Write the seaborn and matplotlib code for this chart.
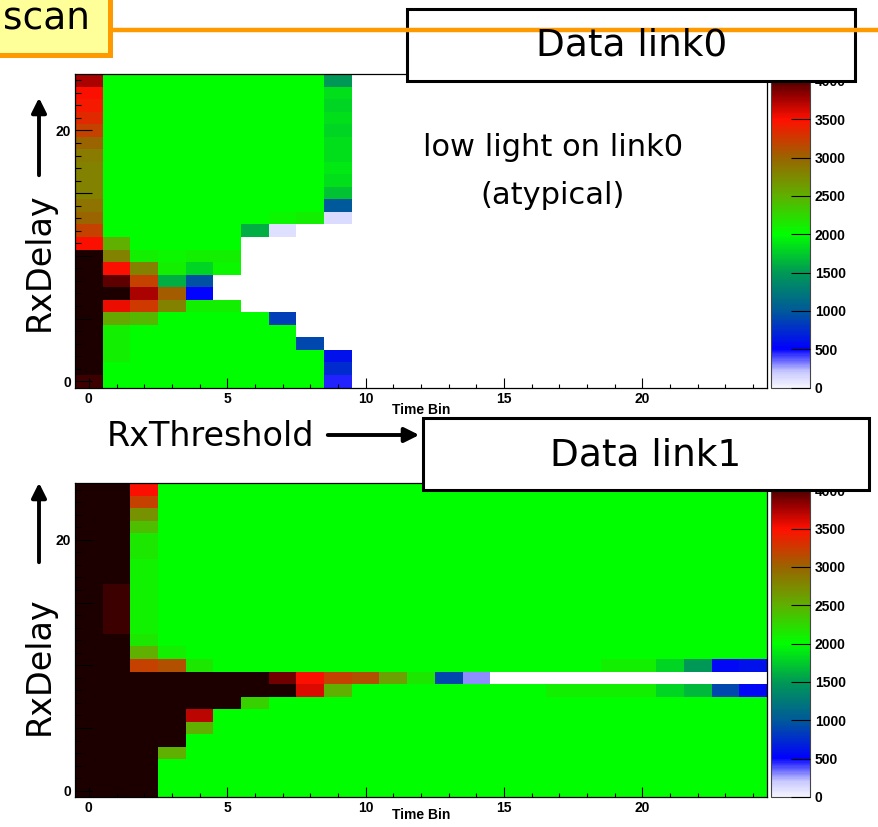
import numpy as np
import pandas as pd
import seaborn as sns
import matplotlib.pyplot as plt
from matplotlib.colors import LinearSegmentedColormap
from matplotlib.patches import Rectangle
from matplotlib.ticker import FixedLocator

N = np.nan   # empty bin
G = 2000     # plateau
K = 4500     # saturated, above palette max

time_bins = list(range(25))
rx_delay = list(range(25))

# link0: only time bins 0..9 filled, rows are RxDelay 0..24
link0_rows = [
    [4050, G, G, G, G, G, G, G, G, 450],
    [K, G, G, G, G, G, G, G, G, 750],
    [K, 2100, G, G, G, G, G, G, G, 600],
    [K, 2100, G, G, G, G, G, G, 900, N],
    [K, 2100, G, G, G, G, G, G, N, N],
    [K, 2550, 2450, G, G, G, G, 850, N, N],
    [K, 3550, 3250, 2800, 2100, 2100, N, N, N, N],
    [K, K, 3750, 3050, 500, N, N, N, N, N],
    [K, 3950, 3200, 1600, 950, N, N, N, N, N],
    [K, 3500, 2800, 2100, 1800, 2050, N, N, N, N],
    [K, 2800, 2100, 2050, 2100, 2100, N, N, N, N],
    [3500, 2500, G, G, G, G, N, N, N, N],
    [3200, G, G, G, G, G, 1600, 100, N, N],
    [3000, G, G, G, G, G, G, 2050, 2100, 120],
    [2900, G, G, G, G, G, G, G, G, 1000],
    [2800, G, G, G, G, G, G, G, G, 1700],
    [2800, G, G, G, G, G, G, G, G, 1850],
    [2800, G, G, G, G, G, G, G, G, 1900],
    [2850, G, G, G, G, G, G, G, G, 1850],
    [3000, G, G, G, G, G, G, G, G, 1850],
    [3200, G, G, G, G, G, G, G, G, 1800],
    [3350, G, G, G, G, G, G, G, G, 1850],
    [3450, G, G, G, G, G, G, G, G, 1800],
    [3500, G, G, G, G, G, G, G, G, 1850],
    [3750, G, G, G, G, G, G, G, G, 1500],
]

# link1: all 25 time bins, rows are RxDelay 0..24
link1_rows = [
    [K, K, K] + [G] * 22,
    [K, K, K] + [G] * 22,
    [K, K, K] + [G] * 22,
    [K, K, K, 2500] + [G] * 21,
    [K, K, K, K] + [G] * 21,
    [K, K, K, K, 2500] + [G] * 20,
    [K, K, K, K, 3700] + [G] * 20,
    [K, K, K, K, K, K, 2300] + [G] * 18,
    [K] * 8 + [3600, 2500] + [G] * 7 + [2100, 2100, 2100, 2100, 1800, 1650, 900, 550],
    [K] * 7 + [3900, 3500, 3200, 3100, 2600, 2150, 900, 290] + [N] * 10,
    [K, K, 3200, 3100, 2150] + [G] * 14 + [2100, 2100, 1800, 1500, 550, 600],
    [K, K, 2500, 2100] + [G] * 21,
    [K, K, 2150] + [G] * 22,
    [K, 4050, 2080] + [G] * 22,
    [K, 4050, 2080] + [G] * 22,
    [K, 4050, 2080] + [G] * 22,
    [K, 4050, 2080] + [G] * 22,
    [K, K, 2080] + [G] * 22,
    [K, K, 2080] + [G] * 22,
    [K, K, 2150] + [G] * 22,
    [K, K, 2150] + [G] * 22,
    [K, K, 2400] + [G] * 22,
    [K, K, 2700] + [G] * 22,
    [K, K, 3200] + [G] * 22,
    [K, K, 3500] + [G] * 22,
]

z_ticks = [0, 500, 1000, 1500, 2000, 2500, 3000, 3500, 4000]
x_major = [0, 5, 10, 15, 20]
y_major = [0, 5, 10, 15, 20]
y_labels = ['0', '', '', '', '20']

ZMAX = 4090
palette = [(0, '#f4f4ff'), (200, '#c8c8ff'), (500, '#0000ff'), (1000, '#005a99'),
           (1500, '#009955'), (2000, '#00ff00'), (2500, '#5fb000'), (3000, '#9a6400'),
           (3500, '#ff1000'), (3800, '#9a0000'), (4090, '#300000')]
cmap = LinearSegmentedColormap.from_list('root', [(v / ZMAX, c) for v, c in palette])
cmap.set_over('#1c0000')
cmap.set_bad('white')

plt.rcParams['font.family'] = ['Liberation Sans', 'DejaVu Sans']

W, H = 879, 827
fig = plt.figure(figsize=(W / 100, H / 100), dpi=100)


def box(l, t, r, b):
    return [l / W, 1 - b / H, (r - l) / W, (b - t) / H]


def draw(rows, ax_box, cb_box):
    ax = fig.add_axes(box(*ax_box))
    cax = fig.add_axes(box(*cb_box))
    rows = [r + [N] * (25 - len(r)) for r in rows]
    df = pd.DataFrame(rows, index=rx_delay, columns=time_bins)
    sns.heatmap(df, ax=ax, cbar_ax=cax, cmap=cmap, vmin=0, vmax=ZMAX,
                xticklabels=False, yticklabels=False, linewidths=0,
                cbar_kws={'extend': 'neither', 'ticks': z_ticks})
    ax.set_axisbelow(False)
    ax.set_xlim(0, 25)
    ax.set_ylim(0, 25)
    ax.set_xlabel('')
    ax.set_ylabel('')
    ax.xaxis.set_major_locator(FixedLocator([v + 0.5 for v in x_major]))
    ax.xaxis.set_minor_locator(FixedLocator([v + 0.5 for v in time_bins]))
    ax.yaxis.set_major_locator(FixedLocator([v + 0.5 for v in y_major]))
    ax.yaxis.set_minor_locator(FixedLocator([v + 0.5 for v in rx_delay]))
    ax.set_xticklabels([str(v) for v in x_major], fontweight='bold')
    ax.set_yticklabels(y_labels, fontweight='bold', rotation=0)
    ax.tick_params(axis='x', which='major', direction='in', length=7, width=0.8,
                   labelsize=10, pad=3)
    ax.tick_params(axis='x', which='minor', direction='in', length=3, width=0.8)
    ax.tick_params(axis='y', which='major', direction='in', length=12, width=0.8,
                   labelsize=10, pad=3)
    ax.tick_params(axis='y', which='minor', direction='in', length=4, width=0.8)
    for s in ax.spines.values():
        s.set_visible(True)
        s.set_color('black')
        s.set_linewidth(0.9)
    cb = ax.collections[0].colorbar
    cb.outline.set_linewidth(0.8)
    cb.outline.set_edgecolor('#444444')
    cax.set_axisbelow(False)
    cax.tick_params(direction='in', length=14, width=0.8, labelsize=10, pad=3)
    for t in cax.get_yticklabels():
        t.set_fontweight('bold')
    return ax


draw(link0_rows, (75, 74, 767, 387.5), (771.5, 74, 810.5, 387.5))
draw(link1_rows, (75, 483.3, 767, 797), (771.5, 483.3, 810.5, 797))

# slide annotations on top
ov = fig.add_axes([0, 0, 1, 1], zorder=10)
ov.set_xlim(0, W)
ov.set_ylim(H, 0)
ov.axis('off')
ov.patch.set_alpha(0)

txt = dict(family='DejaVu Sans', color='black', ha='center', va='center')

ov.plot([113, W], [30, 30], color='#ff9900', lw=3.2, solid_capstyle='butt')
ov.add_patch(Rectangle((-6, -6), 116.5, 60.5, facecolor='#ffff99', edgecolor='#ff9900', lw=3.6))
ov.text(46, 19, 'scan', fontsize=27, **txt)

ov.add_patch(Rectangle((407, 9), 448, 72, facecolor='white', edgecolor='black', lw=2.2))
ov.text(632, 45, 'Data link0', fontsize=27, **txt)
ov.add_patch(Rectangle((423, 418), 446, 72, facecolor='white', edgecolor='black', lw=2.2))
ov.text(646, 456, 'Data link1', fontsize=27, **txt)

ov.text(553, 148, 'low light on link0', fontsize=22, **txt)
ov.text(553, 195, '(atypical)', fontsize=22, **txt)

ov.text(211, 436, 'RxThreshold', fontsize=24, **txt)
ov.annotate('', xy=(422, 435), xytext=(325, 435),
            arrowprops=dict(arrowstyle='-|>', lw=2.8, color='black', mutation_scale=22))

ov.text(39, 262, 'RxDelay', fontsize=24, rotation=90, **txt)
ov.annotate('', xy=(39, 95), xytext=(39, 178),
            arrowprops=dict(arrowstyle='-|>', lw=2.8, color='black', mutation_scale=22))
ov.text(39, 666, 'RxDelay', fontsize=24, rotation=90, **txt)
ov.annotate('', xy=(39, 480), xytext=(39, 565),
            arrowprops=dict(arrowstyle='-|>', lw=2.8, color='black', mutation_scale=22))

ov.text(421, 410, 'Time Bin', fontsize=10, fontweight='bold', ha='center', va='center')
ov.text(421, 815, 'Time Bin', fontsize=10, fontweight='bold', ha='center', va='center')

fig.savefig('out.png', dpi=100, facecolor='white')
